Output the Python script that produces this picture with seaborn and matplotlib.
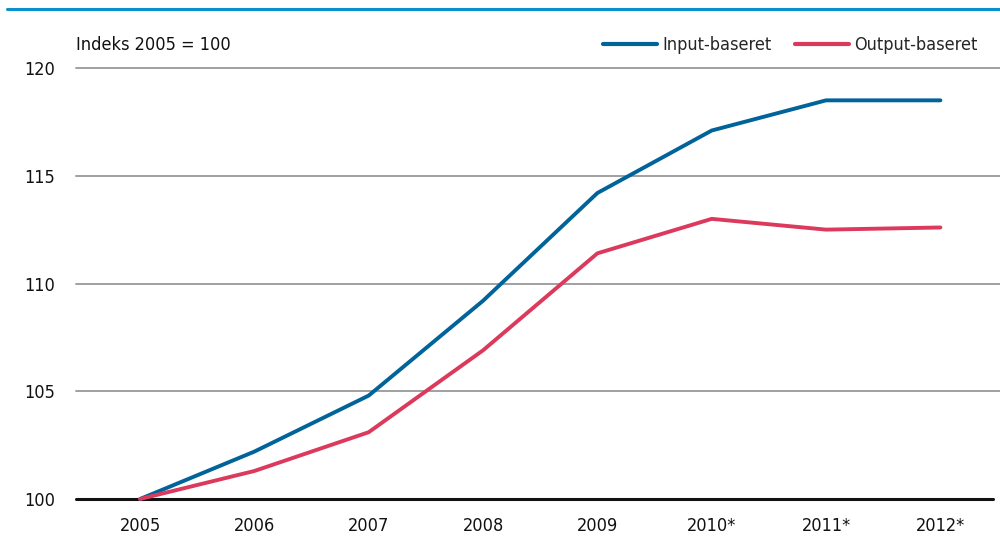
import matplotlib
matplotlib.use("Agg")
import matplotlib.pyplot as plt
import seaborn as sns
import pandas as pd

years = ["2005", "2006", "2007", "2008", "2009", "2010*", "2011*", "2012*"]
input_based = [100.0, 102.2, 104.8, 109.2, 114.2, 117.1, 118.5, 118.5]
output_based = [100.0, 101.3, 103.1, 106.9, 111.4, 113.0, 112.5, 112.6]
series_names = ["Input-baseret", "Output-baseret"]
y_ticks = [100, 105, 110, 115, 120]

sns.set_theme(style="white")
plt.rcParams["font.family"] = ["DejaVu Sans Condensed", "Liberation Sans Narrow", "DejaVu Sans"]
plt.rcParams["font.stretch"] = "condensed"

df = pd.DataFrame({
    "x": list(range(len(years))) * 2,
    "value": input_based + output_based,
    "series": [series_names[0]] * len(years) + [series_names[1]] * len(years),
})

fig = plt.figure(figsize=(10, 5.45), dpi=100)
ax = fig.add_axes([0.076, 0.0844, 0.917, 0.7908])

palette = {series_names[0]: "#00639a", series_names[1]: "#dc3a5c"}
sns.lineplot(data=df, x="x", y="value", hue="series", palette=palette,
             linewidth=2.8, ax=ax, legend=False, zorder=3,
             solid_capstyle="round")
for ln in ax.get_lines():
    ln.set_clip_on(False)

ax.set_ylim(100, 120)
ax.set_xlim(-0.56, 7.46)
ax.set_yticks(y_ticks)
ax.set_yticklabels([str(t) for t in y_ticks])
ax.set_xticks(range(len(years)))
ax.set_xticklabels(years)
ax.set_xlabel("")
ax.set_ylabel("")
ax.tick_params(axis="both", length=0, labelsize=13, colors="#111111")
ax.tick_params(axis="x", pad=13)
ax.tick_params(axis="y", pad=15)

for t in y_ticks[1:]:
    ax.axhline(t, xmin=0, xmax=1.01, color="#a0a0a0", linewidth=1.4,
               zorder=1, clip_on=False)
ax.axhline(100, color="#111111", linewidth=2.2, zorder=2, clip_on=False)

for s in ax.spines.values():
    s.set_visible(False)

# top rule
fig.add_artist(plt.Line2D([0.007, 1.0], [0.984, 0.984], color="#0a8fd0",
                          linewidth=2.2))

fig.text(0.076, 0.917, "Indeks 2005 = 100", fontsize=13,
         color="#111111", va="center", ha="left")

# legend
handles = [plt.Line2D([], [], color=palette[n], linewidth=3.0,
                      solid_capstyle="round") for n in series_names]
leg = fig.legend(handles, series_names, loc="center right",
                 bbox_to_anchor=(0.985, 0.917), ncol=2, frameon=False,
                 fontsize=13, handlelength=3.0, handletextpad=0.3,
                 columnspacing=1.3, borderaxespad=0)

fig.savefig("out.png", dpi=100)
